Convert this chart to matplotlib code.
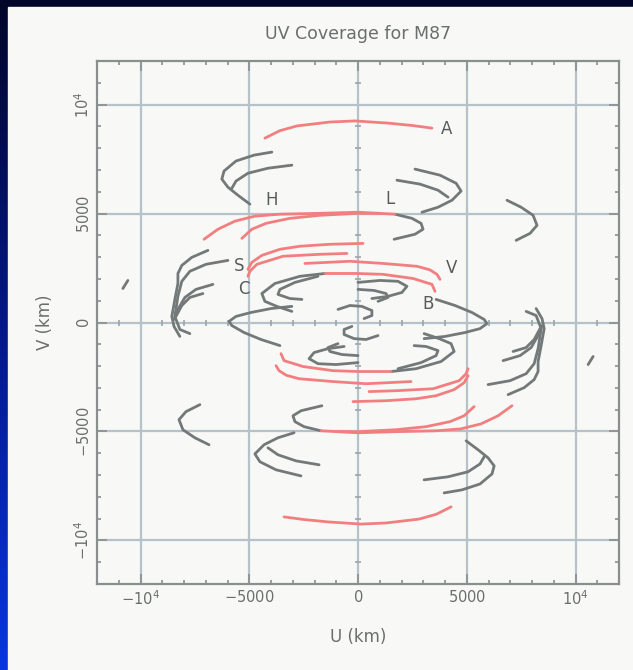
import numpy as np
import matplotlib
matplotlib.use('Agg')
import matplotlib.pyplot as plt
from matplotlib.colors import LinearSegmentedColormap
from matplotlib.patches import Rectangle
from matplotlib.ticker import MultipleLocator, FixedLocator, FixedFormatter

# UV tracks (km), upper half only; the conjugate (-u, -v) is drawn too
# red tracks
A_u = [-4280, -3600, -2810, -1290, -140, 1380, 2500, 3400]
A_v = [8460, 8800, 9020, 9200, 9250, 9150, 9040, 8920]
R1_u = [-7080, -6440, -5660, -4740, -3590, -1750, 0, 1700]
R1_v = [3820, 4280, 4650, 4880, 4970, 5010, 5060, 4970]
R2_u = [-5340, -4880, -4230, -3130, -1750, 0, 1010]
R2_v = [3860, 4280, 4550, 4780, 4920, 5010, 5010]
R3_u = [230, -1290, -2670, -3590, -4420, -4880, -5060]
R3_v = [3630, 3590, 3500, 3360, 3080, 2760, 2440]
R4_u = [-510, -1750, -3450, -4650, -4970, -5060]
R4_v = [3170, 3130, 3040, 2670, 2350, 2120]
RV_u = [-2440, -370, 1150, 2710, 3300, 3630, 3770]
RV_v = [2710, 2810, 2710, 2580, 2420, 2210, 1980]
RB_u = [3540, 3400, 2530, 1150, -50, -1520]
RB_v = [1430, 1750, 2020, 2210, 2250, 2250]

# gray tracks
G1_u = [-3960, -4780, -5610, -6160, -6260, -5980, -5520, -4970]
G1_v = [7820, 7680, 7410, 6950, 6580, 6210, 5840, 5430]
G2_u = [-3040, -4140, -5060, -5610, -5800]
G2_v = [7220, 7080, 6850, 6490, 6160]
G3_u = [2620, 3770, 4510, 4740, 4320, 3680, 2940]
G3_v = [7040, 6760, 6390, 6030, 5610, 5290, 5060]
G4_u = [1790, 2850, 3680, 4140]
G4_v = [6530, 6350, 6070, 5750]
G5_u = [1700, 2480, 2900, 2990, 2620, 1660]
G5_v = [4970, 4780, 4550, 4280, 4050, 3820]
G6_u = [-1520, -2670, -3820, -4420, -4280, -3730, -3040]
G6_v = [2250, 2120, 1790, 1330, 970, 740, 510]
G7_u = [-1840, -2900, -3590, -3680, -3130, -2580]
G7_v = [2120, 1840, 1520, 1290, 1100, 1060]
L1_u = [3590, 4460, 5240, 5800, 5930, 5610, 4920, 4000, 3040]
L1_v = [1060, 780, 460, 140, -50, -280, -460, -640, -740]
G8_u = [0, 1010, 1840, 2250, 2020, 1380, 640]
G8_v = [1840, 1930, 1890, 1660, 1380, 1200, 1100]
G9_u = [0, 740, 1290, 1380, 920]
G9_v = [1520, 1470, 1330, 1150, 970]
G10_u = [-920, -370, 180, 640, 640, 280]
G10_v = [600, 780, 740, 550, 320, 180]
G12_u = [-7270, -7910, -8230, -8050, -7500, -6850]
G12_v = [-3770, -4090, -4460, -4920, -5290, -5610]
G13_u = [-6900, -7640, -8100, -8280, -8280, -8420, -8560, -8460, -8190]
G13_v = [3310, 2990, 2620, 2250, 1790, 1060, 280, -180, -640]
G14_u = [-5980, -6990, -7730, -8100, -8280, -8420, -8190, -7730]
G14_v = [2850, 2670, 2350, 1890, 1200, 280, -320, -510]
G15_u = [-7130, -7730, -8100, -8370]
G15_v = [1330, 1150, 780, 280]
G16_u = [-10810, -10580]
G16_v = [1560, 1930]
G17_u = [-6670, -7450, -7960, -8280, -8460]
G17_v = [1750, 1520, 1150, 600, 140]

red_tracks = [(A_u, A_v), (R1_u, R1_v), (R2_u, R2_v), (R3_u, R3_v),
              (R4_u, R4_v), (RV_u, RV_v), (RB_u, RB_v)]
gray_tracks = [(G1_u, G1_v), (G2_u, G2_v), (G3_u, G3_v), (G4_u, G4_v),
               (G5_u, G5_v), (G6_u, G6_v), (G7_u, G7_v), (L1_u, L1_v),
               (G8_u, G8_v), (G9_u, G9_v), (G10_u, G10_v), (G12_u, G12_v),
               (G13_u, G13_v), (G14_u, G14_v), (G15_u, G15_v),
               (G16_u, G16_v), (G17_u, G17_v)]

# station letters
station_names = ['A', 'H', 'L', 'S', 'C', 'V', 'B']
station_u = [4090, -3960, 1470, -5470, -5240, 4320, 3220]
station_v = [8880, 5610, 5660, 2580, 1520, 2480, 870]

fig = plt.figure(figsize=(6.33, 6.70), dpi=100)

# slide background: blue gradient with a white panel
bg = fig.add_axes([0, 0, 1, 1], zorder=-10)
cmap = LinearSegmentedColormap.from_list('slide', ['#000628', '#04188a', '#0836e0'])
bg.imshow(np.linspace(0, 1, 256).reshape(-1, 1), aspect='auto', cmap=cmap,
          extent=[0, 1, 0, 1], origin='upper')
bg.add_patch(Rectangle((8/633, 0), 1, 1 - 7/670, color='#f8f9f7',
                       transform=bg.transAxes))
bg.axis('off')

ax = fig.add_axes([97/633, 1 - 584/670, 522/633, 523/670])
ax.set_facecolor('none')
ax.set_xlim(-12000, 12000)
ax.set_ylim(-12000, 12000)

gridc = '#b6c2ca'
for p in [-10000, -5000, 0, 5000, 10000]:
    ax.axvline(p, color=gridc, lw=1.6, zorder=1)
    ax.axhline(p, color=gridc, lw=1.6, zorder=1)

ax.xaxis.set_major_locator(FixedLocator([-10000, -5000, 0, 5000, 10000]))
ax.yaxis.set_major_locator(FixedLocator([-10000, -5000, 0, 5000, 10000]))
ax.xaxis.set_minor_locator(MultipleLocator(1000))
ax.yaxis.set_minor_locator(MultipleLocator(1000))
labels = [r'$-10^4$', r'$-5000$', r'$0$', r'$5000$', r'$10^4$']
ax.xaxis.set_major_formatter(FixedFormatter(labels))
ax.yaxis.set_major_formatter(FixedFormatter(labels))

# small ticks along the zero lines
mt = [t for t in ax.xaxis.get_minorticklocs() if abs(t) < 12000]
ax.plot(mt, np.zeros(len(mt)), ls='none', marker='|', ms=4, color='#9aa6ae',
        mew=1.2, zorder=1)
ax.plot(np.zeros(len(mt)), mt, ls='none', marker='_', ms=4, color='#9aa6ae',
        mew=1.2, zorder=1)

style = dict(lw=2.0, solid_capstyle='round', solid_joinstyle='round')
for u, v in gray_tracks:
    u = np.array(u); v = np.array(v)
    ax.plot(u, v, color='#737979', zorder=3, **style)
    ax.plot(-u, -v, color='#737979', zorder=3, **style)
for u, v in red_tracks:
    u = np.array(u); v = np.array(v)
    ax.plot(u, v, color='#f27f7f', zorder=4, **style)
    ax.plot(-u, -v, color='#f27f7f', zorder=4, **style)

for name, u, v in zip(station_names, station_u, station_v):
    ax.text(u, v, name, fontsize=12, color='#575c5c', ha='center',
            va='center', zorder=5)

for s in ax.spines.values():
    s.set_color('#8a8e8e')
    s.set_linewidth(1.6)
ax.tick_params(which='both', direction='in', top=True, right=True,
               color='#8a8e8e', labelcolor='#6a6e6e', labelsize=10.5)
ax.tick_params(which='major', length=7, width=1.2)
ax.tick_params(which='minor', length=3, width=1.2)
plt.setp(ax.get_yticklabels(), rotation=90, va='center')

ax.set_title('UV Coverage for M87', fontsize=12.5, color='#6a6e6e', pad=16)
ax.set_xlabel('U (km)', fontsize=12, color='#6a6e6e', labelpad=15)
ax.set_ylabel('V (km)', fontsize=12, color='#6a6e6e', labelpad=14)

fig.savefig('out.png', dpi=100)
